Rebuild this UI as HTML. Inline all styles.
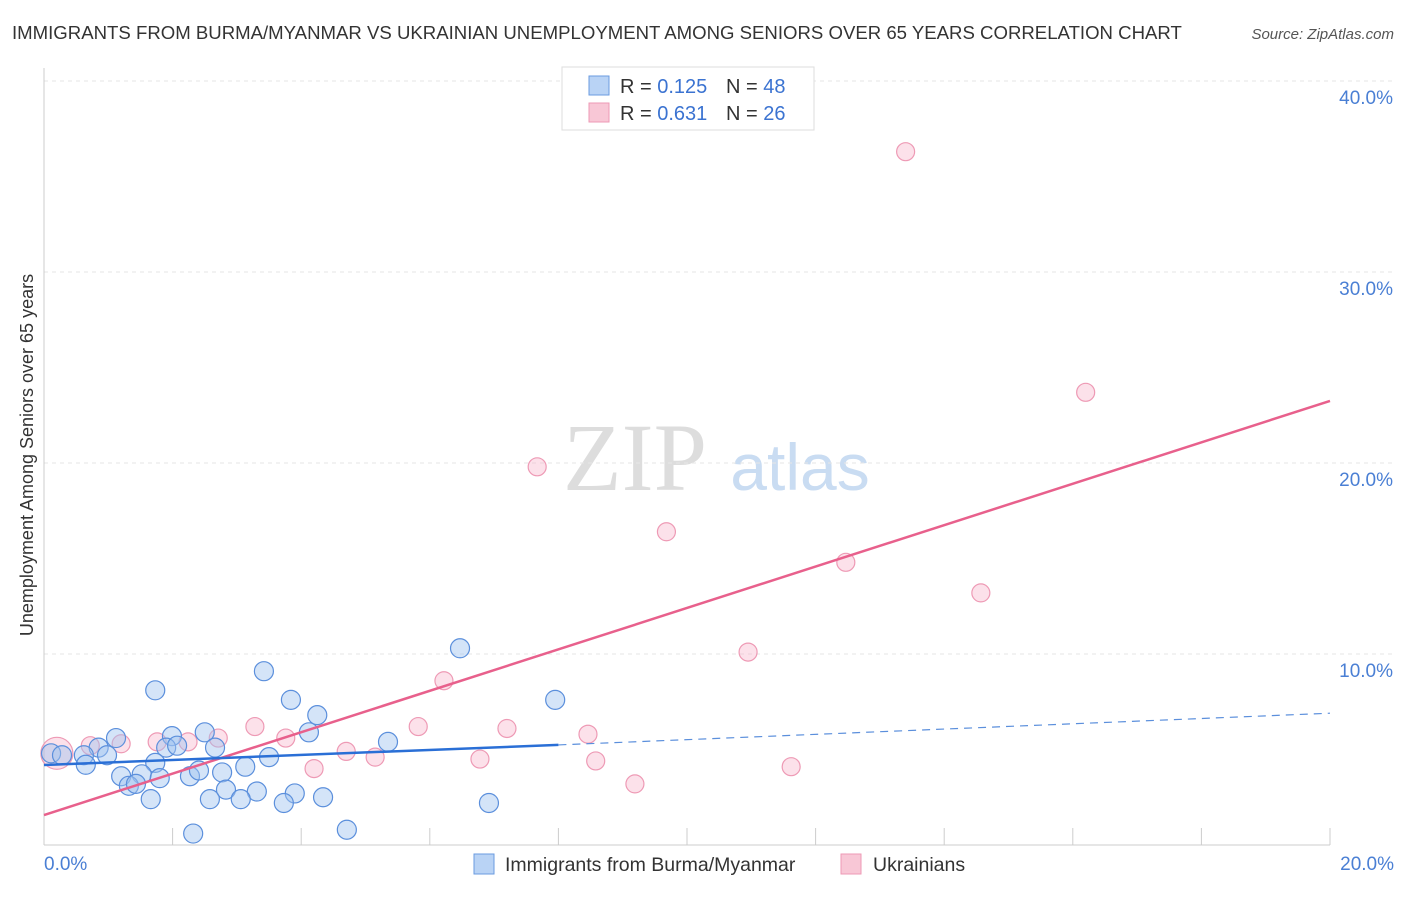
<!DOCTYPE html>
<html><head><meta charset="utf-8"><style>
body{margin:0;background:#fff;font-family:"Liberation Sans",sans-serif}
</style></head><body>
<svg width="1406" height="892" xmlns="http://www.w3.org/2000/svg" id="svg" font-family="Liberation Sans, sans-serif">
<text x="12" y="39" font-size="18.6" fill="#333">IMMIGRANTS FROM BURMA/MYANMAR VS UKRAINIAN UNEMPLOYMENT AMONG SENIORS OVER 65 YEARS CORRELATION CHART</text>
<text x="1394" y="39" font-size="15" fill="#555" font-style="italic" text-anchor="end">Source: ZipAtlas.com</text>
<text x="635" y="490" font-size="96" fill="#ddd" font-family="Liberation Serif, serif" text-anchor="middle">ZIP</text>
<text x="800" y="490" font-size="66" fill="#c9dcf2" text-anchor="middle">atlas</text>
<text transform="translate(33,455) rotate(-90)" font-size="18" fill="#333" text-anchor="middle">Unemployment Among Seniors over 65 years</text>
<g id="grid"></g><g id="marks"></g>
<g>
<rect x="562" y="67" width="252" height="63" fill="#fff" stroke="#ddd"/>
<rect x="589" y="76" width="20" height="19" fill="#b9d3f5" stroke="#6a9be0"/>
<rect x="589" y="103" width="20" height="19" fill="#f8c7d6" stroke="#ee9ab5"/>
<text x="620" y="93" font-size="20" fill="#333">R = <tspan fill="#3b73d1">0.125</tspan></text>
<text x="726" y="93" font-size="20" fill="#333">N = <tspan fill="#3b73d1">48</tspan></text>
<text x="620" y="120" font-size="20" fill="#333">R = <tspan fill="#3b73d1">0.631</tspan></text>
<text x="726" y="120" font-size="20" fill="#333">N = <tspan fill="#3b73d1">26</tspan></text>
</g>
<g>
<rect x="474" y="854" width="20" height="20" fill="#b9d3f5" stroke="#6a9be0"/>
<text x="505" y="871" font-size="19.5" fill="#333">Immigrants from Burma/Myanmar</text>
<rect x="841" y="854" width="20" height="20" fill="#f8c7d6" stroke="#ee9ab5"/>
<text x="873" y="871" font-size="19.5" fill="#333">Ukrainians</text>
</g>
</svg>
<script>
const xTicks=[0,20];
const yTicks=[10,20,30,40];
const blueX=[4.12,1.73,3.42,3.84,4.25,6.47,7.95,5.35,2.50,1.99,1.12,2.66,1.90,2.07,0.85,0.62,0.98,0.11,0.28,1.73,0.65,1.20,1.52,1.32,1.43,1.80,2.27,2.41,2.77,3.13,3.50,2.83,3.31,3.90,1.66,2.58,3.06,3.73,4.34,6.92,2.32,4.71];
const blueY=[5.9,8.1,9.1,7.6,6.8,10.3,7.6,5.4,5.9,5.7,5.6,5.1,5.1,5.2,5.1,4.7,4.7,4.8,4.7,4.3,4.2,3.6,3.7,3.1,3.2,3.5,3.6,3.9,3.8,4.1,4.6,2.9,2.8,2.7,2.4,2.4,2.4,2.2,2.5,2.2,0.6,0.8];
const pinkX=[13.4,16.2,7.67,9.68,12.47,14.57,10.95,6.22,5.82,3.28,7.20,8.46,3.76,2.71,2.24,1.20,1.76,0.72,4.70,5.15,6.78,8.58,4.20,9.19,11.62,0.20];
const pinkY=[36.3,23.7,19.8,16.4,14.8,13.2,10.1,8.6,6.2,6.2,6.1,5.8,5.6,5.6,5.4,5.3,5.4,5.2,4.9,4.6,4.5,4.4,4.0,3.2,4.1,4.8];
const X=v=>44+v/20*1286, Y=v=>845-v*19.1;
const NS='http://www.w3.org/2000/svg';
function mk(t,a,p){const e=document.createElementNS(NS,t);for(const k in a)e.setAttribute(k,a[k]);p.appendChild(e);return e;}
const gridG=document.getElementById('grid'), marksG=document.getElementById('marks');
yTicks.forEach(v=>{const l=mk('line',{x1:44,x2:1394,y1:Y(v),y2:Y(v),stroke:'#e6e6e6','stroke-dasharray':'4,4'},gridG);


const t=mk('text',{x:1393,y:Y(v)+23,'font-size':19,fill:'#4a7fd4','text-anchor':'end'},gridG);t.textContent=v.toFixed(1)+'%';

});
const yAxisLine=mk('line',{x1:44,x2:44,y1:68,y2:845,stroke:'#ccc'},gridG);


const xAxisLine=mk('line',{x1:44,x2:1330,y1:845,y2:845,stroke:'#ccc'},gridG);


for(let i=1;i<=10;i++){const t=mk('line',{x1:X(i*2),x2:X(i*2),y1:828,y2:845,stroke:'#ccc'},gridG);

}
xTicks.forEach((v,i)=>{const t=mk('text',{x:i?1394:44,y:870,'font-size':19,fill:'#4a7fd4','text-anchor':i?'end':'start'},gridG);t.textContent=v.toFixed(1)+'%';

});
pinkX.forEach((x,i)=>{const c=mk('circle',{cx:X(x),cy:Y(pinkY[i]),r:i==25?16:9,fill:'rgba(245,170,195,0.35)',stroke:'#ee9ab5','stroke-width':1.2},marksG);

});
blueX.forEach((x,i)=>{const c=mk('circle',{cx:X(x),cy:Y(blueY[i]),r:9.5,fill:'rgba(160,195,240,0.45)',stroke:'#5b8fdc','stroke-width':1.2},marksG);

});
const pl=mk('line',{x1:X(0),y1:Y(1.57),x2:X(20),y2:Y(23.25),stroke:'#e8608c','stroke-width':2.5},marksG);


const bl=mk('line',{x1:X(0),y1:Y(4.19),x2:X(8),y2:Y(5.24),stroke:'#2a6fd6','stroke-width':2.5},marksG);


const bd=mk('line',{x1:X(8),y1:Y(5.24),x2:X(20),y2:Y(6.9),stroke:'#5b8fdc','stroke-width':1.2,'stroke-dasharray':'8,6'},marksG);


</script>
</body></html>
